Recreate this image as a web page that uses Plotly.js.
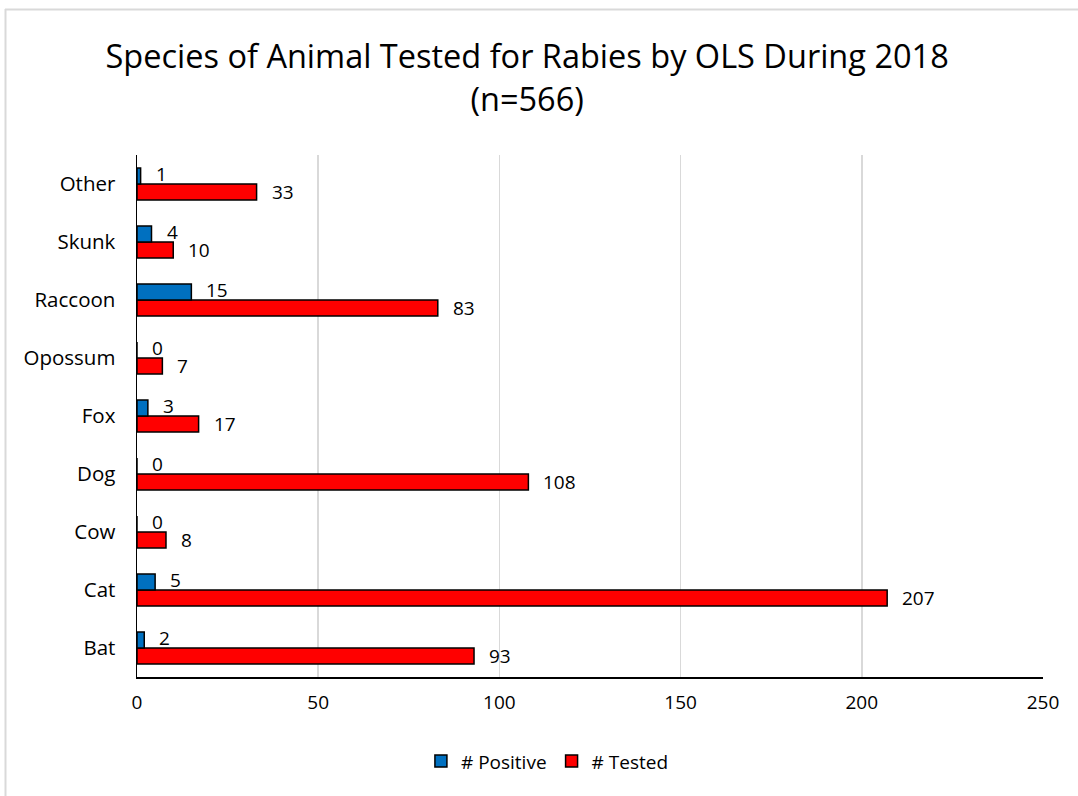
<!DOCTYPE html>
<html>
<head>
<meta charset="utf-8">
<script src="https://cdn.plot.ly/plotly-3.0.1.min.js"></script>
<style>html,body{margin:0;padding:0;background:#fff;}#chart{width:1078px;height:796px;}</style>
</head>
<body>
<div id="chart"></div>
<script>
var categories = ["Bat", "Cat", "Cow", "Dog", "Fox", "Opossum", "Raccoon", "Skunk", "Other"];
var positive = [2, 5, 0, 0, 3, 0, 15, 4, 1];
var tested = [93, 207, 8, 108, 17, 7, 83, 10, 33];
var seriesNames = ["# Positive", "# Tested"];
var xTicks = [0, 50, 100, 150, 200, 250];

var fontFam = "'Open Sans', sans-serif";

var traceTested = {
  type: "bar", orientation: "h",
  y: categories, x: tested, name: seriesNames[1],
  marker: {color: "#FF0000", line: {color: "#000000", width: 1.5}},
  legendrank: 2
};
var tracePositive = {
  type: "bar", orientation: "h",
  y: categories, x: positive, name: seriesNames[0],
  marker: {color: "#0070C0", line: {color: "#000000", width: 1.5}},
  legendrank: 1
};

var L = 137, R = 1043, T = 155, B = 677;
function px2x(p){ return (p - L) / (R - L); }
function py2y(p){ return (B - p) / (B - T); }

var annotations = [];
categories.forEach(function(c, i){
  annotations.push({x: positive[i], y: c, xref: "x", yref: "y", text: String(positive[i]),
    showarrow: false, xanchor: "left", yanchor: "middle", xshift: 13, yshift: 10,
    font: {size: 19, family: fontFam, color: "#000"}});
  annotations.push({x: tested[i], y: c, xref: "x", yref: "y", text: String(tested[i]),
    showarrow: false, xanchor: "left", yanchor: "middle", xshift: 13, yshift: -8,
    font: {size: 19, family: fontFam, color: "#000"}});
});

var layout = {
  width: 1078, height: 796,
  margin: {l: L, r: 1078 - R, t: T, b: 796 - B},
  paper_bgcolor: "#fff", plot_bgcolor: "#fff",
  font: {family: fontFam, size: 19, color: "#000"},
  title: {
    text: "Species of Animal Tested for Rabies by OLS During 2018<br>(n=566)",
    font: {size: 32.5, family: fontFam, color: "#000"},
    x: 0.489, xanchor: "center", y: 0.914, yanchor: "top"
  },
  barmode: "group", bargap: 0.45, bargroupgap: 0,
  showlegend: true,
  legend: {orientation: "h", x: 0.453, xanchor: "center", y: -0.125, yanchor: "top",
           font: {size: 19, family: fontFam}, traceorder: "normal", itemwidth: 30},
  xaxis: {
    range: [0, 250], tickvals: xTicks, ticktext: xTicks.map(String),
    showgrid: true, gridcolor: "#d9d9d9", gridwidth: 1.5,
    showline: true, linecolor: "#000", linewidth: 1.5,
    zeroline: false, ticks: "", ticklen: 0, ticklabelstandoff: 8,
    tickfont: {size: 19, family: fontFam}, fixedrange: true
  },
  yaxis: {
    type: "category", categoryorder: "array", categoryarray: categories,
    range: [-0.5, 8.5],
    showgrid: false, showline: true, linecolor: "#000", linewidth: 1.5,
    ticks: "", ticklabelstandoff: 16,
    tickfont: {size: 20.5, family: fontFam}, fixedrange: true
  },
  annotations: annotations,
  shapes: [
    {type: "line", xref: "paper", yref: "paper", x0: px2x(5), x1: px2x(1080), y0: py2y(9.5), y1: py2y(9.5),
     line: {color: "#d9d9d9", width: 2}},
    {type: "line", xref: "paper", yref: "paper", x0: px2x(5.5), x1: px2x(5.5), y0: py2y(9), y1: py2y(800),
     line: {color: "#d9d9d9", width: 2}}
  ]
};

Plotly.newPlot("chart", [traceTested, tracePositive], layout, {displayModeBar: false, staticPlot: true});
</script>
</body>
</html>
